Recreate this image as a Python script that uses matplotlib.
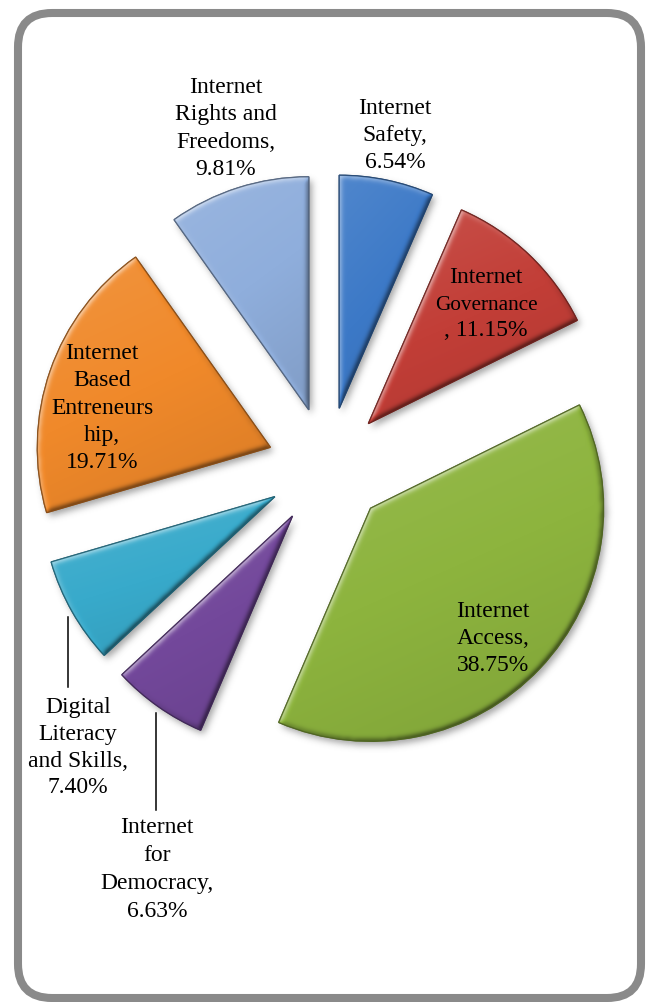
import numpy as np
import matplotlib
matplotlib.use("Agg")
import matplotlib.pyplot as plt
from matplotlib.patches import FancyBboxPatch, PathPatch
from matplotlib.colors import to_rgb

# ---- data -------------------------------------------------------------
categories = ["Internet Safety", "Internet Governance", "Internet Access",
              "Internet for Democracy", "Digital Literacy and Skills",
              "Internet Based Entreneurship", "Internet Rights and Freedoms"]
shares = [6.54, 11.15, 38.75, 6.63, 7.40, 19.71, 9.81]
label_templates = [
    "Internet\nSafety,\n{:.2f}%",
    "Internet\nGovernance\n, {:.2f}%",
    "Internet\nAccess,\n{:.2f}%",
    "Internet\nfor\nDemocracy,\n{:.2f}%",
    "Digital\nLiteracy\nand Skills,\n{:.2f}%",
    "Internet\nBased\nEntreneurs\nhip,\n{:.2f}%",
    "Internet\nRights and\nFreedoms,\n{:.2f}%",
]
colors = ["#3C79C7", "#C23E37", "#8DB43E", "#73489B",
          "#38AACB", "#F0892A", "#8FAEDC"]

# ---- layout (pixel units, y measured from the top) ---------------------
W, H = 649, 1002
PIE_CENTER = (327, 467)
PIE_RADIUS = 233
EXPLODE = 60
# (centre x, baseline of first line, line step)
label_pos = [(395, 114, 27.0), (486, 283, 26.5), (493, 617, 27.0),
             (157, 833, 28.0), (78, 713, 26.8), (102, 359, 27.3),
             (226, 93, 27.3)]
small_lines = {"Governance": 15.3}
leaders = [((68, 617), (68, 687)), ((156, 713), (156, 810))]
SERIF = ["Liberation Serif", "DejaVu Serif"]

fig = plt.figure(figsize=(W / 100, H / 100), dpi=100)
ax = fig.add_axes([0, 0, 1, 1])

# rounded frame
frame = FancyBboxPatch((18, H - 998), 623, 985,
                       boxstyle="round,pad=0,rounding_size=34",
                       facecolor="white", edgecolor="#8a8a8a",
                       linewidth=5.8, zorder=0)
ax.add_patch(frame)

wedges, _ = ax.pie(shares, colors=colors, startangle=90, counterclock=False,
                   radius=PIE_RADIUS, center=(PIE_CENTER[0], H - PIE_CENTER[1]),
                   explode=[EXPLODE] * len(shares), frame=True,
                   wedgeprops=dict(linewidth=1.0))

ax.set_xlim(0, W)
ax.set_ylim(0, H)
ax.set_aspect("auto")
ax.axis("off")

# pixel grid in data coordinates (row 0 = top)
cols = np.arange(W) + 0.5
rows = np.arange(H) + 0.5
X, Y = np.meshgrid(cols, H - rows)


def wedge_mask(w):
    cx, cy = w.center
    dx, dy = X - cx, Y - cy
    dist = np.hypot(dx, dy)
    ang = np.degrees(np.arctan2(dy, dx)) % 360.0
    span = (w.theta2 - w.theta1) % 360.0
    inside = (dist <= w.r) & (((ang - w.theta1) % 360.0) <= span)
    return inside.astype(float)


def blur(a, s):
    n = int(3 * s) + 1
    k = np.exp(-0.5 * (np.arange(-n, n + 1) / s) ** 2)
    k /= k.sum()
    p = np.pad(a, n, mode="constant")
    out = np.zeros_like(p)
    for i, kv in enumerate(k):
        out += kv * np.roll(p, i - n, axis=0)
    p = out
    out = np.zeros_like(p)
    for i, kv in enumerate(k):
        out += kv * np.roll(p, i - n, axis=1)
    return out[n:-n, n:-n]


masks = [wedge_mask(w) for w in wedges]

# soft drop shadow under all slices
allm = np.clip(sum(masks), 0, 1)
shifted = np.zeros_like(allm)
shifted[4:, 3:] = allm[:-4, :-3]
sh = blur(shifted, 3.5)
shadow = np.zeros((H, W, 4))
shadow[..., :3] = 0.35
shadow[..., 3] = 0.55 * sh
ax.imshow(shadow, extent=(0, W, 0, H), origin="upper", zorder=0.5,
          interpolation="bilinear")

# bevelled, gently graded fill for each slice
for w, m, c in zip(wedges, masks, colors):
    base = np.array(to_rgb(c))
    b = blur(m, 2.6)
    gy, gx = np.gradient(b)
    bevel = np.clip((gx + gy) / np.sqrt(2) * 3.2, -0.45, 0.45)
    ys, xs = np.nonzero(m)
    y0, y1 = ys.min(), ys.max()
    x0, x1 = xs.min(), xs.max()
    t = ((rows[:, None] - y0) / max(y1 - y0, 1) * 0.7
         + (cols[None, :] - x0) / max(x1 - x0, 1) * 0.3)
    shade = 0.10 - 0.20 * np.clip(t, 0, 1)
    tot = (shade + bevel)[..., None]
    img = np.where(tot > 0, base + tot * (1 - base), base * (1 + tot))
    img = np.clip(img, 0, 1)
    w.set_facecolor(c)
    w.set_edgecolor(tuple(base * 0.6))
    w.set_zorder(1)
    im = ax.imshow(img, extent=(0, W, 0, H), origin="upper", zorder=1.1,
                   interpolation="bilinear")
    im.set_clip_path(w)
    ax.add_patch(PathPatch(w.get_path(), transform=w.get_transform(),
                           facecolor="none", edgecolor=tuple(base * 0.55),
                           linewidth=0.9, zorder=1.2, alpha=0.8))

# labels
for tmpl, v, (lx, ly, step) in zip(label_templates, shares, label_pos):
    for i, line in enumerate(tmpl.format(v).split("\n")):
        ax.text(lx, H - (ly + i * step), line, ha="center", va="baseline",
                fontsize=small_lines.get(line, 17), family=SERIF,
                color="black", zorder=3)

for (xa, ya), (xb, yb) in leaders:
    ax.plot([xa, xb], [H - ya, H - yb], color="black", linewidth=1.1, zorder=3)

fig.savefig("out.png", dpi=100)
